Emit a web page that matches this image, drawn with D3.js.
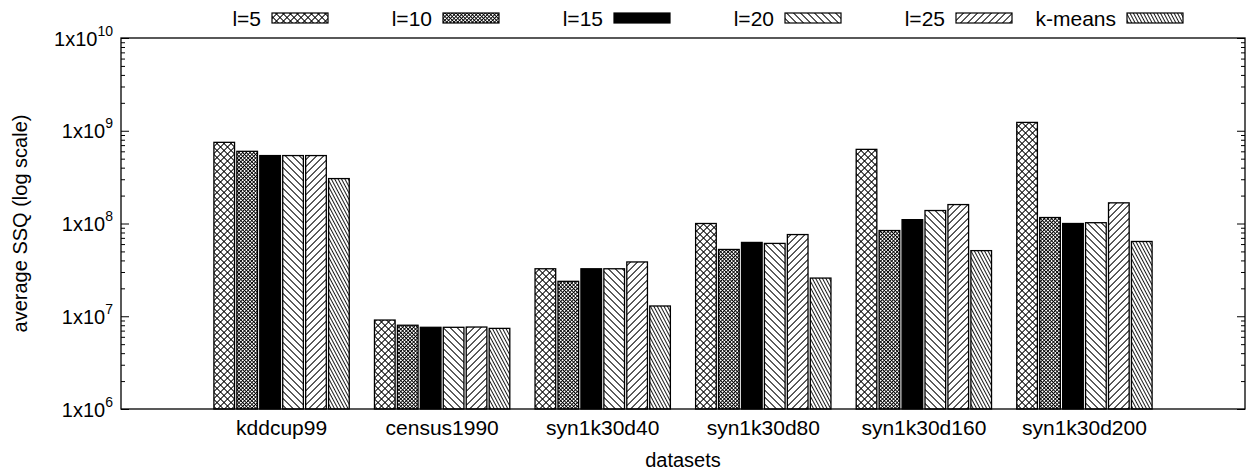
<!DOCTYPE html>
<html>
<head>
<meta charset="utf-8">
<script src="https://cdn.jsdelivr.net/npm/d3@7"></script>
<style>
  body { margin: 0; background: #fff; }
  svg { display: block; }
  text { font-family: "Liberation Sans", Arial, Helvetica, sans-serif; fill: #000; }
</style>
</head>
<body>
<svg id="chart" width="1253" height="473"></svg>
<script>
// ---- data ----
const categories = ["kddcup99", "census1990", "syn1k30d40", "syn1k30d80", "syn1k30d160", "syn1k30d200"];
const seriesNames = ["l=5", "l=10", "l=15", "l=20", "l=25", "k-means"];
const l5     = [7.5e8, 9.1e6, 3.25e7, 1.0e8, 6.3e8, 1.23e9];
const l10    = [6.0e8, 8.0e6, 2.38e7, 5.25e7, 8.4e7, 1.16e8];
const l15    = [5.4e8, 7.6e6, 3.25e7, 6.25e7, 1.1e8, 1.0e8];
const l20    = [5.4e8, 7.6e6, 3.25e7, 6.1e7, 1.38e8, 1.02e8];
const l25    = [5.4e8, 7.65e6, 3.85e7, 7.6e7, 1.6e8, 1.67e8];
const kmeans = [3.05e8, 7.4e6, 1.29e7, 2.58e7, 5.1e7, 6.4e7];
const seriesValues = [l5, l10, l15, l20, l25, kmeans];
const yTickValues = [1e6, 1e7, 1e8, 1e9, 1e10];
const yTickExponents = ["6", "7", "8", "9", "10"];
const xTitle = "datasets";
const yTitle = "average SSQ (log scale)";

// ---- layout ----
const svg = d3.select("#chart");
const L = 121, R = 1245, T = 38, B = 409;
const FS = 21;

const defs = svg.append("defs");
function linePattern(id, period, angle, width) {
  const p = defs.append("pattern").attr("id", id)
    .attr("patternUnits", "userSpaceOnUse")
    .attr("width", period).attr("height", period)
    .attr("patternTransform", `rotate(${angle})`);
  p.append("rect").attr("width", period).attr("height", period).attr("fill", "#fff");
  p.append("line").attr("x1", period / 2).attr("y1", 0).attr("x2", period / 2).attr("y2", period)
    .attr("stroke", "#000").attr("stroke-width", width);
}
function crossPattern(id, period, width) {
  const p = defs.append("pattern").attr("id", id)
    .attr("patternUnits", "userSpaceOnUse")
    .attr("width", period).attr("height", period)
    .attr("patternTransform", "rotate(45)");
  p.append("rect").attr("width", period).attr("height", period).attr("fill", "#fff");
  p.append("line").attr("x1", period / 2).attr("y1", 0).attr("x2", period / 2).attr("y2", period)
    .attr("stroke", "#000").attr("stroke-width", width);
  p.append("line").attr("x1", 0).attr("y1", period / 2).attr("x2", period).attr("y2", period / 2)
    .attr("stroke", "#000").attr("stroke-width", width);
}
crossPattern("p0", 4.95, 1);
crossPattern("p1", 2.6, 0.9);
linePattern("p3", 4.95, -45, 1);
linePattern("p4", 4.95, 45, 1);
linePattern("p5", 3.0, -28, 0.9);
const fills = ["url(#p0)", "url(#p1)", "#000", "url(#p3)", "url(#p4)", "url(#p5)"];

const x0 = d3.scaleBand().domain(categories).range([L, R])
  .paddingInner(1 / 7).paddingOuter(4 / 7).align(0.5);
const x1 = d3.scaleBand().domain(seriesNames).range([0, x0.bandwidth()]).paddingInner(0.1).paddingOuter(0.05);
const y = d3.scaleLog().domain([1e6, 1e10]).range([B, T]);

// bars
const g = svg.append("g");
categories.forEach((c, ci) => {
  seriesNames.forEach((s, si) => {
    const v = seriesValues[si][ci];
    g.append("rect")
      .attr("x", x0(c) + x1(s))
      .attr("y", y(v))
      .attr("width", x1.bandwidth())
      .attr("height", B - y(v))
      .attr("fill", fills[si])
      .attr("stroke", "#000")
      .attr("stroke-width", 1.3);
  });
});

// minor tick values
const minor = [];
for (let e = 6; e < 10; e++) for (let m = 2; m <= 9; m++) minor.push(m * Math.pow(10, e));

// y axes
const yAxisL = svg.append("g").attr("transform", `translate(${L},0)`)
  .call(d3.axisLeft(y).tickValues(yTickValues).tickSize(-8).tickPadding(8).tickFormat(() => ""));
yAxisL.select(".domain").remove();
yAxisL.selectAll(".tick text").each(function (d, i) {
  const t = d3.select(this);
  t.text(null).attr("font-size", 20).attr("dy", "0.35em");
  t.append("tspan").text("1x10");
  t.append("tspan").attr("font-size", 14).attr("dy", "-0.7em").text(yTickExponents[i]);
});
svg.append("g").attr("transform", `translate(${L},0)`)
  .call(d3.axisLeft(y).tickValues(minor).tickSize(-4).tickFormat(() => ""))
  .select(".domain").remove();
const yAxisR = svg.append("g").attr("transform", `translate(${R},0)`)
  .call(d3.axisRight(y).tickValues(yTickValues).tickSize(-8).tickFormat(() => ""));
yAxisR.select(".domain").remove();
svg.append("g").attr("transform", `translate(${R},0)`)
  .call(d3.axisRight(y).tickValues(minor).tickSize(-4).tickFormat(() => ""))
  .select(".domain").remove();
svg.selectAll(".tick line").attr("stroke", "#000").attr("stroke-width", 1);

// x axis labels
const xAxis = svg.append("g").attr("transform", `translate(0,${B})`)
  .call(d3.axisBottom(x0).tickSize(0).tickPadding(11));
xAxis.select(".domain").remove();
xAxis.selectAll(".tick text").attr("font-size", FS).attr("font-family", "Liberation Sans, Arial, sans-serif");

// frame
svg.append("rect").attr("x", L).attr("y", T).attr("width", R - L).attr("height", B - T)
  .attr("fill", "none").attr("stroke", "#000").attr("stroke-width", 1.3);

// titles
svg.append("text").attr("x", (L + R) / 2).attr("y", 467).attr("text-anchor", "middle")
  .attr("font-size", 20).text(xTitle);
svg.append("text").attr("transform", `translate(27,${(T + B) / 2}) rotate(-90)`)
  .attr("text-anchor", "middle").attr("font-size", 20).text(yTitle);

// legend
const legendBoxRight = d3.scalePoint().domain(seriesNames).range([328, 1183]);
seriesNames.forEach((s, si) => {
  const xr = legendBoxRight(s);
  svg.append("rect").attr("x", xr - 56).attr("y", 13).attr("width", 56).attr("height", 10)
    .attr("fill", fills[si]).attr("stroke", "#000").attr("stroke-width", 1.2);
  svg.append("text").attr("x", xr - 56 - 11).attr("y", 25.5).attr("text-anchor", "end")
    .attr("font-size", FS).text(s);
});
</script>
</body>
</html>
